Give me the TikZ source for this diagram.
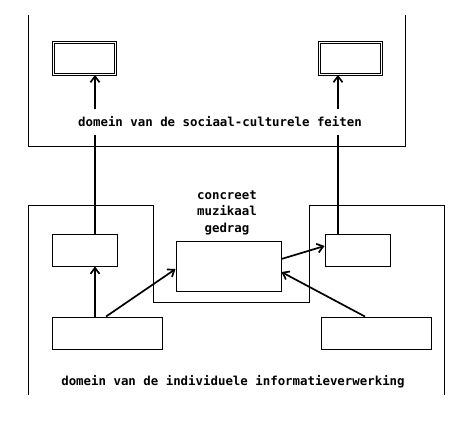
\documentclass[tikz,border=0pt]{standalone}
\usepackage{fontspec}
\setmonofont{DejaVu Sans Mono}
\usetikzlibrary{arrows.meta}

\tikzset{
    box/.style={draw, line width=0.9pt, inner sep=0pt},
    dbox/.style={draw, double, line width=0.8pt, double distance=1.6pt, inner sep=0pt,
        minimum width=62pt, minimum height=32pt},
    lbl/.style={font=\ttfamily\bfseries\fontsize{12.4}{16.5}\selectfont, inner sep=0pt},
    arr/.style={-{Straight Barb[length=6pt,width=9pt]}, line width=1.7pt},
    lin/.style={line width=1.7pt}
}

\begin{document}
\begin{tikzpicture}[x=1pt,y=-1pt]

        \useasboundingbox (0,0) rectangle (475,426);

        % domains
        \draw [line width=0.9pt] (28,15) -- (28,146) -- (405,146) -- (405,15);
        \draw [line width=0.9pt] (28,395) -- (28,205) -- (153,205) -- (153,302)
            -- (309,302) -- (309,205) -- (444,205) -- (444,395);

        \coordinate (lx) at (95,0);
        \coordinate (rx) at (338,0);

        \node [dbox] (tl) at (84.5,58.5) {};
        \node [dbox] (tr) at (350.5,58.5) {};

        \node [lbl, minimum height=25pt] (sc) at (220,122) {domein van de sociaal-culturele feiten};

        \node [box, minimum width=65pt, minimum height=32pt] (ml) at (84.5,250) {};
        \node [box, minimum width=110pt, minimum height=32pt] (bl) at (107,333) {};

        \node [box, minimum width=105pt, minimum height=50pt] (c) at (228.5,266) {};
        \node [lbl, align=center] (cmg) at (227,212.5) {concreet\\muzikaal\\gedrag};

        \node [box, minimum width=65pt, minimum height=32pt] (mr) at (357.5,250) {};
        \node [box, minimum width=110pt, minimum height=32pt] (br) at (376,333) {};

        \node [lbl] (ii) at (233,382) {domein van de individuele informatieverwerking};

        \draw [lin] (ml.north -| lx) -- (sc.south -| lx);
        \draw [arr] (sc.north -| lx) -- (tl.south -| lx);

        \draw [lin] (mr.north -| rx) -- (sc.south -| rx);
        \draw [arr] (sc.north -| rx) -- (tr.south -| rx);

        \draw [arr] (bl.north -| lx) -- (ml.south -| lx);
        \draw [arr] ([xshift=-1pt]bl.north) -- ([yshift=-3pt]c.west);
        \draw [arr] ([yshift=7pt]c.east) -- ([yshift=4pt]mr.west);
        \draw [arr] ([xshift=-11pt]br.north) -- ([yshift=-6pt]c.east);
    \end{tikzpicture}
\end{document}
